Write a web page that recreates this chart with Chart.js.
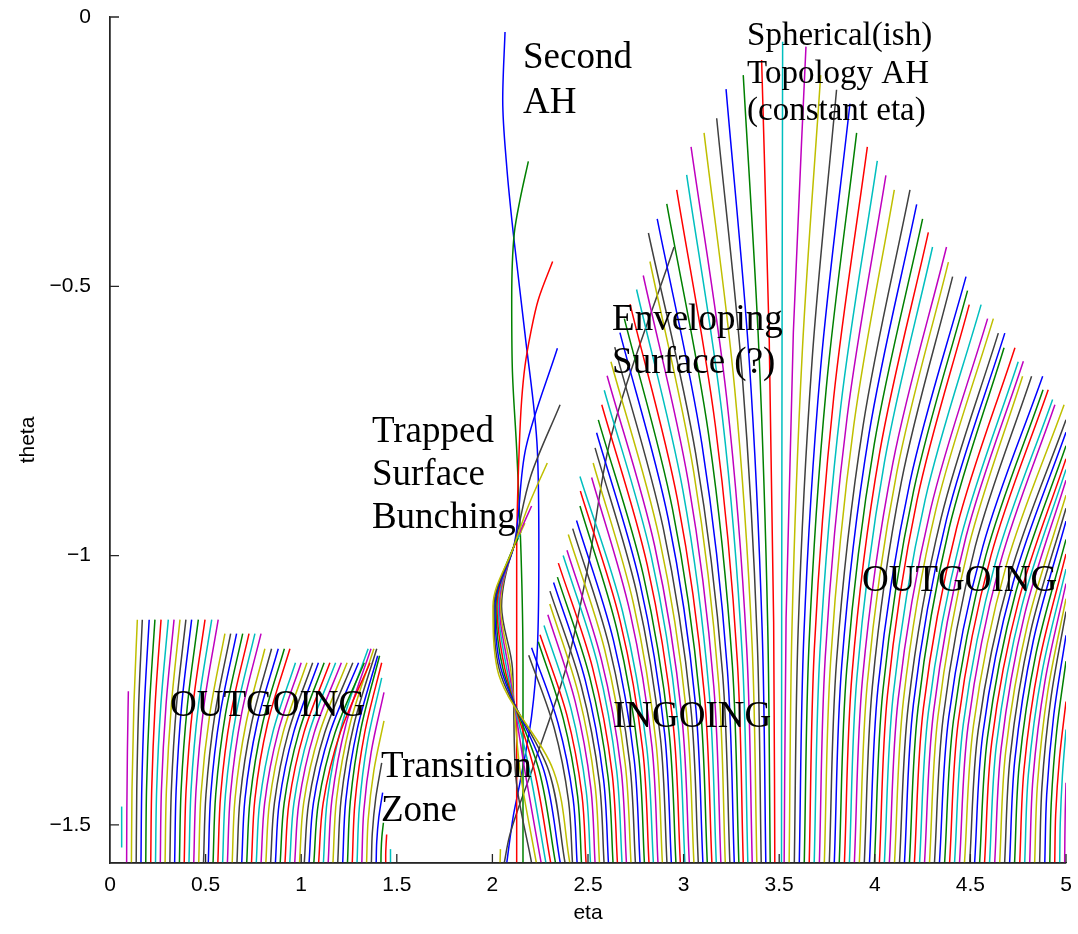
<!DOCTYPE html>
<html>
<head>
<meta charset="utf-8">
<script src="https://cdn.jsdelivr.net/npm/chart.js@4.4.1/dist/chart.umd.min.js"></script>
<style>
  html, body { margin: 0; padding: 0; background: #fff; }
  canvas { display: block; }
</style>
</head>
<body>
<canvas id="surfaces" width="1078" height="934" style="width:1078px;height:934px"></canvas>
<script>
// theta runs from -pi/2 at the bottom of the axes up to 0
const thetaMin = -Math.PI / 2;
const thetaTicks = [-1.5, -1, -0.5, 0];

// old MATLAB colour order: b g r c m y k
const colourOrder = ['#0000ff', '#008000', '#ff0000', '#00bfbf', '#bf00bf', '#bfbf00', '#404040'];

// each family curve is read at its foot, at 30% and 65% of its height, and at its top end
const readHeights = [0.3, 0.65];

// left "outgoing" family
const leftBase = [0.087, 0.112, 0.137, 0.162, 0.187, 0.213, 0.238, 0.263, 0.288, 0.313,
  0.338, 0.363, 0.388, 0.413, 0.438, 0.464, 0.489, 0.514, 0.539, 0.564,
  0.589, 0.614, 0.639, 0.664, 0.689, 0.715, 0.740, 0.765, 0.790, 0.815,
  0.840, 0.865, 0.890, 0.915, 0.940, 0.966, 0.991, 1.016, 1.041, 1.066,
  1.091, 1.116, 1.141, 1.166, 1.191, 1.217, 1.242, 1.267, 1.292, 1.317,
  1.342, 1.367, 1.392, 1.417, 1.442, 1.467];
const leftLow = [0.088, 0.115, 0.140, 0.166, 0.191, 0.218, 0.244, 0.269, 0.295, 0.321,
  0.346, 0.372, 0.398, 0.424, 0.450, 0.476, 0.502, 0.527, 0.553, 0.579,
  0.604, 0.630, 0.654, 0.680, 0.706, 0.733, 0.758, 0.783, 0.809, 0.834,
  0.860, 0.885, 0.911, 0.936, 0.962, 0.988, 1.013, 1.039, 1.064, 1.090,
  1.115, 1.137, 1.161, 1.185, 1.209, 1.233, 1.257, 1.281, 1.304, 1.327,
  1.350, 1.372, 1.395, 1.418, 1.442, 1.467];
const leftHigh = [0.091, 0.125, 0.150, 0.180, 0.207, 0.236, 0.266, 0.293, 0.321, 0.348,
  0.375, 0.405, 0.434, 0.463, 0.492, 0.522, 0.549, 0.576, 0.604, 0.632,
  0.660, 0.688, 0.711, 0.740, 0.769, 0.798, 0.824, 0.851, 0.878, 0.905,
  0.932, 0.960, 0.987, 1.014, 1.041, 1.068, 1.096, 1.123, 1.150, 1.177,
  1.204, 1.214, 1.235, 1.256, 1.277, 1.294, 1.313, 1.332, 1.346, 1.366,
  1.380, 1.390, 1.406, 1.422, 1.444, 1.467];
const leftTop = [0.096, 0.143, 0.169, 0.205, 0.235, 0.267, 0.305, 0.335, 0.366, 0.397,
  0.427, 0.462, 0.497, 0.532, 0.566, 0.601, 0.631, 0.662, 0.694, 0.727,
  0.758, 0.790, 0.810, 0.845, 0.880, 0.912, 0.941, 0.970, 1.000, 1.030,
  1.060, 1.090, 1.120, 1.150, 1.180, 1.210, 1.240, 1.270, 1.300, 1.330,
  1.360, 1.350, 1.365, 1.380, 1.395, 1.400, 1.410, 1.421, 1.421, 1.433,
  1.433, 1.421, 1.426, 1.430, 1.447, 1.467];
const leftTopTheta = [-1.252, -1.119, -1.119, -1.119, -1.119, -1.119, -1.119, -1.119, -1.119, -1.119,
  -1.119, -1.119, -1.119, -1.119, -1.119, -1.145, -1.145, -1.145, -1.145, -1.145,
  -1.145, -1.145, -1.173, -1.173, -1.173, -1.173, -1.173, -1.199, -1.199, -1.199,
  -1.199, -1.199, -1.199, -1.199, -1.199, -1.199, -1.199, -1.199, -1.199, -1.199,
  -1.199, -1.173, -1.173, -1.173, -1.173, -1.186, -1.186, -1.199, -1.227, -1.254,
  -1.307, -1.385, -1.440, -1.496, -1.518, -1.545];

// "ingoing" family, left half of the dome (tops lean left)
const inBase = [2.419, 2.443, 2.466, 2.490, 2.513, 2.537, 2.560, 2.584, 2.607, 2.631,
  2.654, 2.678, 2.701, 2.725, 2.748, 2.772, 2.795, 2.819, 2.842, 2.866,
  2.889, 2.913, 2.936, 2.960, 2.983, 3.007, 3.030, 3.054, 3.077, 3.101,
  3.124, 3.148, 3.171, 3.195, 3.218, 3.242, 3.265, 3.289, 3.312, 3.336,
  3.359, 3.383, 3.406, 3.430, 3.453, 3.477];
const inLow = [2.398, 2.422, 2.446, 2.468, 2.491, 2.515, 2.537, 2.559, 2.581, 2.605,
  2.626, 2.650, 2.673, 2.695, 2.718, 2.742, 2.765, 2.787, 2.807, 2.835,
  2.856, 2.879, 2.901, 2.923, 2.946, 2.969, 2.991, 3.015, 3.038, 3.062,
  3.085, 3.109, 3.133, 3.158, 3.183, 3.204, 3.229, 3.255, 3.281, 3.307,
  3.330, 3.358, 3.385, 3.411, 3.440, 3.471];
const inHigh = [2.323, 2.343, 2.371, 2.389, 2.411, 2.433, 2.451, 2.465, 2.486, 2.509,
  2.524, 2.549, 2.570, 2.587, 2.610, 2.633, 2.653, 2.668, 2.681, 2.720,
  2.737, 2.755, 2.772, 2.789, 2.810, 2.830, 2.849, 2.872, 2.893, 2.919,
  2.942, 2.968, 2.996, 3.024, 3.053, 3.063, 3.096, 3.131, 3.166, 3.202,
  3.225, 3.267, 3.308, 3.343, 3.394, 3.448];
const inTop = [2.190, 2.205, 2.240, 2.249, 2.270, 2.290, 2.300, 2.301, 2.320, 2.340,
  2.345, 2.370, 2.390, 2.397, 2.420, 2.440, 2.458, 2.460, 2.458, 2.519,
  2.527, 2.537, 2.545, 2.554, 2.572, 2.585, 2.600, 2.620, 2.640, 2.667,
  2.690, 2.720, 2.754, 2.789, 2.824, 2.816, 2.862, 2.912, 2.964, 3.016,
  3.039, 3.107, 3.173, 3.222, 3.312, 3.408];
const inTopTheta = [-1.185, -1.171, -1.160, -1.147, -1.130, -1.110, -1.090, -1.066, -1.050, -1.040,
  -1.014, -1.000, -0.990, -0.961, -0.950, -0.935, -0.908, -0.880, -0.853, -0.855,
  -0.828, -0.800, -0.772, -0.748, -0.720, -0.693, -0.666, -0.640, -0.613, -0.586,
  -0.560, -0.533, -0.506, -0.480, -0.454, -0.401, -0.375, -0.347, -0.321, -0.293,
  -0.241, -0.215, -0.188, -0.134, -0.108, -0.080];

// "outgoing" family, from the constant-eta AH out to eta = 5
const outBase = [3.512, 3.526, 3.552, 3.579, 3.605, 3.631, 3.657, 3.683, 3.710, 3.736,
  3.762, 3.788, 3.814, 3.841, 3.867, 3.893, 3.919, 3.945, 3.972, 3.998,
  4.024, 4.050, 4.076, 4.103, 4.129, 4.155, 4.181, 4.207, 4.234, 4.260,
  4.286, 4.312, 4.338, 4.365, 4.391, 4.417, 4.443, 4.469, 4.496, 4.522,
  4.548, 4.574, 4.600, 4.627, 4.653, 4.679, 4.705, 4.731, 4.758, 4.784,
  4.810, 4.836, 4.862, 4.889, 4.915, 4.941, 4.967, 4.993];
const outLow = [3.513, 3.536, 3.567, 3.599, 3.629, 3.656, 3.684, 3.713, 3.741, 3.769,
  3.800, 3.827, 3.853, 3.881, 3.906, 3.936, 3.961, 3.987, 4.017, 4.042,
  4.066, 4.096, 4.122, 4.150, 4.176, 4.202, 4.226, 4.254, 4.280, 4.307,
  4.330, 4.358, 4.387, 4.411, 4.437, 4.463, 4.488, 4.516, 4.541, 4.565,
  4.589, 4.612, 4.636, 4.661, 4.684, 4.708, 4.732, 4.755, 4.780, 4.803,
  4.827, 4.851, 4.874, 4.899, 4.923, 4.946, 4.970, 4.994];
const outHigh = [3.515, 3.574, 3.621, 3.672, 3.716, 3.746, 3.785, 3.822, 3.856, 3.890,
  3.939, 3.969, 3.997, 4.025, 4.050, 4.095, 4.115, 4.139, 4.184, 4.203,
  4.221, 4.263, 4.292, 4.320, 4.346, 4.376, 4.389, 4.428, 4.451, 4.477,
  4.491, 4.525, 4.565, 4.581, 4.608, 4.632, 4.653, 4.688, 4.708, 4.723,
  4.738, 4.753, 4.768, 4.784, 4.799, 4.814, 4.829, 4.844, 4.860, 4.875,
  4.890, 4.905, 4.920, 4.936, 4.951, 4.966, 4.981, 4.996];
const outTop = [3.518, 3.640, 3.717, 3.800, 3.870, 3.905, 3.961, 4.013, 4.058, 4.102,
  4.184, 4.219, 4.250, 4.280, 4.302, 4.375, 4.385, 4.407, 4.477, 4.485,
  4.494, 4.556, 4.590, 4.620, 4.646, 4.680, 4.676, 4.733, 4.750, 4.777,
  4.773, 4.820, 4.878, 4.880, 4.907, 4.930, 4.942, 4.990, 5, 5,
  5, 5, 5, 5, 5, 5, 5, 5, 5, 5,
  5, 5, 5, 5, 5, 5, 5, 5];
const outTopTheta = [-0.046, -0.055, -0.108, -0.135, -0.161, -0.215, -0.241, -0.267, -0.294, -0.321,
  -0.321, -0.348, -0.375, -0.400, -0.427, -0.427, -0.455, -0.482, -0.482, -0.508,
  -0.534, -0.534, -0.560, -0.560, -0.587, -0.587, -0.614, -0.614, -0.640, -0.639,
  -0.667, -0.667, -0.667, -0.692, -0.692, -0.710, -0.720, -0.720, -0.748, -0.771,
  -0.796, -0.820, -0.840, -0.860, -0.888, -0.912, -0.936, -0.970, -0.997, -1.025,
  -1.052, -1.080, -1.104, -1.148, -1.196, -1.271, -1.323, -1.422];

// trapped surfaces that bunch up near eta 2.1: eta read at the bottom, at
// theta -1.40, -1.21, at the leftmost swing (-1.094), then past the knot
const bulgeLevels = [-1.40, -1.21, -1.094];
const bunchKnot = [2.112, -0.983];
const bulgeBase = [2.405, 2.380, 2.355, 2.330, 2.305, 2.280, 2.255, 2.230, 2.205];
const bulgeLow = [2.320, 2.295, 2.270, 2.245, 2.220, 2.195, 2.170, 2.145, 2.120];
const bulgeNeck = [2.025, 2.035, 2.045, 2.055, 2.065, 2.075, 2.085, 2.095, 2.105];
const bulgeLeft = [2.003, 2.008, 2.013, 2.018, 2.024, 2.030, 2.036, 2.042, 2.048];
const bulgeUpper = [2.190, 2.200, 2.175, 2.124, 2.120, 2.128, 2.158, 2.142, 2.132];
const bulgeUpperTheta = [-0.906, -0.853, -0.800, -0.975, -0.977, -0.971, -0.945, -0.961, -0.968];
const bulgeTop = [2.287, 2.354, 2.340, 2.135, 2.128, 2.144, 2.205, 2.170, 2.150];
const bulgeTopTheta = [-0.828, -0.720, -0.615, -0.968, -0.972, -0.961, -0.908, -0.940, -0.955];

// single traced curves, [eta, theta] from bottom to top
const secondAH = [[2.075, -1.5708], [2.109, -1.484], [2.144, -1.422], [2.205, -1.298], [2.235, -1.174],
  [2.243, -0.989], [2.235, -0.803], [2.170, -0.587], [2.109, -0.401], [2.075, -0.278], [2.054, -0.154], [2.066, -0.028]];
const longGreen = [[2.160, -1.5708], [2.160, -1.200], [2.150, -1.000], [2.127, -0.803], [2.104, -0.650],
  [2.101, -0.525], [2.115, -0.400], [2.144, -0.340], [2.188, -0.268]];
const longRed = [[2.127, -1.5708], [2.127, -1.000], [2.140, -0.803], [2.153, -0.711], [2.170, -0.649],
  [2.200, -0.587], [2.240, -0.525], [2.315, -0.454]];
const envelope = [[2.062, -1.5708], [2.090, -1.520], [2.214, -1.391], [2.388, -1.205], [2.500, -1.020],
  [2.620, -0.780], [2.950, -0.427]];
const stubCyan = [[0.061, -1.542], [0.061, -1.466]];
const stubYellow = [[2.040, -1.5708], [2.042, -1.545]];

// hand-written notes on the figure: text, eta and theta of the baseline start, size
const notes = [
  ['Second', 2.160, -0.095, 37], ['AH', 2.160, -0.178, 37],
  ['Spherical(ish)', 3.332, -0.052, 33], ['Topology AH', 3.332, -0.1225, 33], ['(constant eta)', 3.332, -0.191, 33],
  ['Enveloping', 2.626, -0.581, 37], ['Surface (?)', 2.626, -0.661, 37],
  ['Trapped', 1.370, -0.789, 37], ['Surface', 1.370, -0.869, 37], ['Bunching', 1.370, -0.949, 37],
  ['OUTGOING', 0.314, -1.298, 37],
  ['INGOING', 2.631, -1.318, 37],
  ['OUTGOING', 3.933, -1.066, 37],
  ['Transition', 1.417, -1.411, 37], ['Zone', 1.417, -1.493, 37]
];

function family(base, low, high, top, topTheta, firstColour) {
  return base.map((b, i) => {
    const span = topTheta[i] - thetaMin;
    return {
      data: [
        { x: b, y: thetaMin },
        { x: low[i], y: thetaMin + readHeights[0] * span },
        { x: high[i], y: thetaMin + readHeights[1] * span },
        { x: top[i], y: topTheta[i] }
      ],
      borderColor: colourOrder[(firstColour + i) % 7]
    };
  });
}

function trace(points, colour) {
  return { data: points.map(p => ({ x: p[0], y: p[1] })), borderColor: colour };
}

const bulges = bulgeBase.map((b, i) => ({
  data: [
    { x: b, y: thetaMin },
    { x: bulgeLow[i], y: bulgeLevels[0] },
    { x: bulgeNeck[i], y: bulgeLevels[1] },
    { x: bulgeLeft[i], y: bulgeLevels[2] },
    { x: bunchKnot[0], y: bunchKnot[1] },
    { x: bulgeUpper[i], y: bulgeUpperTheta[i] },
    { x: bulgeTop[i], y: bulgeTopTheta[i] }
  ],
  borderColor: colourOrder[(5 + i) % 7]
}));

const datasets = [
  trace(stubCyan, colourOrder[3]),
  ...family(leftBase, leftLow, leftHigh, leftTop, leftTopTheta, 4),
  trace(stubYellow, colourOrder[5]),
  ...bulges,
  ...family(inBase, inLow, inHigh, inTop, inTopTheta, 6),
  ...family(outBase, outLow, outHigh, outTop, outTopTheta, 3),
  trace(longRed, colourOrder[2]),
  trace(longGreen, colourOrder[1]),
  trace(envelope, colourOrder[6]),
  trace(secondAH, colourOrder[0])
];

// MATLAB style: ticks pointing into the axes, notes written over the curves
const matlabLook = {
  id: 'matlabLook',
  afterDatasetsDraw(chart) {
    const { ctx, chartArea, scales: { x, y } } = chart;
    ctx.save();
    ctx.strokeStyle = '#262626';
    ctx.lineWidth = 1.3;
    ctx.beginPath();
    x.ticks.forEach(t => {
      const px = x.getPixelForValue(t.value);
      ctx.moveTo(px, chartArea.bottom);
      ctx.lineTo(px, chartArea.bottom - 9);
    });
    y.ticks.forEach(t => {
      const py = y.getPixelForValue(t.value);
      ctx.moveTo(chartArea.left, py);
      ctx.lineTo(chartArea.left + 9, py);
    });
    ctx.moveTo(chartArea.left, chartArea.top);
    ctx.lineTo(chartArea.left, chartArea.bottom);
    ctx.lineTo(chartArea.right, chartArea.bottom);
    ctx.stroke();

    ctx.fillStyle = '#000';
    ctx.textAlign = 'left';
    ctx.textBaseline = 'alphabetic';
    notes.forEach(([text, eta, theta, size]) => {
      ctx.font = size + 'px "Liberation Serif", "Times New Roman", serif';
      ctx.fillText(text, x.getPixelForValue(eta), y.getPixelForValue(theta));
    });
    ctx.restore();
  }
};

const axisFont = { family: '"Liberation Sans", Arial, Helvetica, sans-serif', size: 21 };

new Chart(document.getElementById('surfaces'), {
  type: 'line',
  data: { datasets },
  options: {
    indexAxis: 'y',
    responsive: false,
    animation: false,
    devicePixelRatio: 1,
    events: [],
    layout: { padding: { top: 17, right: 12, left: 0, bottom: 0 } },
    elements: {
      point: { radius: 0 },
      line: { borderWidth: 1.5, cubicInterpolationMode: 'monotone', fill: false }
    },
    plugins: { legend: { display: false }, tooltip: { enabled: false } },
    scales: {
      x: {
        type: 'linear',
        position: 'bottom',
        min: 0,
        max: 5,
        afterFit: s => { s.height = 71; s.paddingLeft = 0; s.paddingRight = 0; },
        grid: { display: false, drawTicks: false },
        border: { display: true, color: '#262626', width: 1.3 },
        ticks: {
          stepSize: 0.5, padding: 10, color: '#000', font: axisFont,
          maxRotation: 0, autoSkip: false,
          callback: v => String(v)
        },
        title: { display: true, text: 'eta', color: '#000', font: axisFont, padding: { top: 0, bottom: 8 } }
      },
      y: {
        type: 'linear',
        position: 'left',
        min: thetaMin,
        max: 0,
        afterFit: s => { s.width = 110; s.paddingTop = 0; s.paddingBottom = 0; },
        afterBuildTicks: s => { s.ticks = thetaTicks.map(v => ({ value: v })); },
        grid: { display: false, drawTicks: false },
        border: { display: true, color: '#262626', width: 1.3 },
        ticks: {
          padding: 19, color: '#000', font: axisFont,
          callback: v => (v < 0 ? '\u2212' + String(-v) : String(v))
        },
        title: { display: true, text: 'theta', color: '#000', font: axisFont, padding: { top: 16, bottom: 0 } }
      }
    }
  },
  plugins: [matlabLook]
});
</script>
</body>
</html>
